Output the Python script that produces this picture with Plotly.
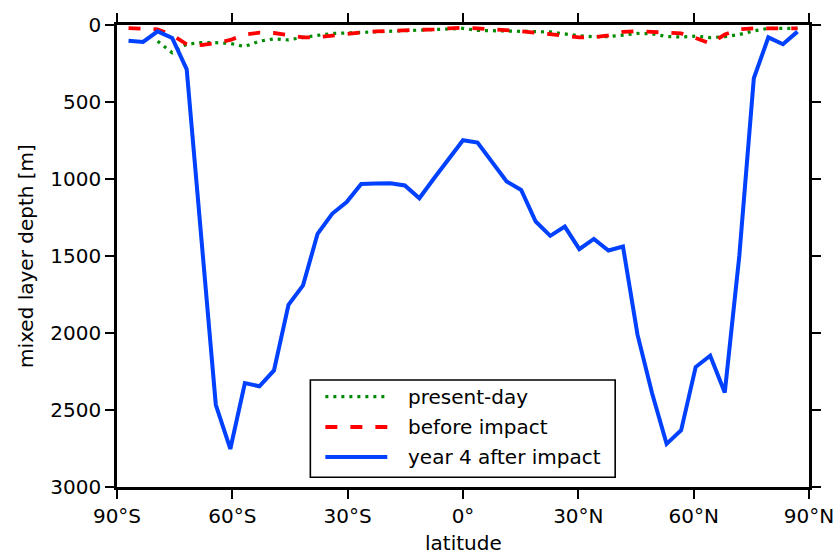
import plotly.graph_objects as go

lat = [-87.0, -83.22, -79.43, -75.65, -71.87, -68.09, -64.3, -60.52, -56.74, -52.96,
       -49.17, -45.39, -41.61, -37.83, -34.04, -30.26, -26.48, -22.7, -18.91, -15.13,
       -11.35, -7.57, -3.78, 0.0, 3.78, 7.57, 11.35, 15.13, 18.91, 22.7, 26.48, 30.26,
       34.04, 37.83, 41.61, 45.39, 49.17, 52.96, 56.74, 60.52, 64.3, 68.09, 71.87,
       75.65, 79.43, 83.22, 87.0]

present_day = [None, None, 105, 180, 125, 115, 115, 120, 140, 105, 90, 97, 80, 65, 55,
               52, 48, 45, 42, 38, 33, 28, 24, 22, 35, 37, 38, 38, 40, 45, 58, 70, 76,
               75, 66, 55, 57, 75, 78, 72, 82, 76, 62, 38, 22, 22, 22]

before_impact = [20, 22, 28, 65, 125, 130, 118, 97, 62, 50, 52, 65, 80, 80, 70, 55, 48,
                 42, 40, 36, 33, 28, 22, 17, 22, 26, 33, 40, 50, 58, 66, 80, 80, 68, 45,
                 40, 45, 48, 55, 85, 120, 62, 28, 22, 22, 22, 22]

year4_after = [102, 110, 41, 84, 288, 1390, 2466, 2753, 2325, 2346, 2243, 1817, 1691,
               1356, 1226, 1150, 1032, 1030, 1027, 1042, 1125, 997, 870, 748, 763, 890,
               1016, 1071, 1276, 1369, 1309, 1455, 1389, 1464, 1438, 2011, 2390, 2720,
               2632, 2221, 2148, 2386, 1500, 346, 80, 125, 43]

x_ticks = [-90, -60, -30, 0, 30, 60, 90]
x_tick_labels = ["90°S", "60°S", "30°S", "0°", "30°N", "60°N", "90°N"]
y_ticks = [0, 500, 1000, 1500, 2000, 2500, 3000]

series_names = ["present-day", "before impact", "year 4 after impact"]
colors = ["#008c00", "#ff0000", "#0040ff"]
dashes = ["3px,5px", "12px,13px", "solid"]
widths = [3.2, 3.8, 4]

FONT = "DejaVu Sans"

fig = go.Figure()
for name, ys, c, d, w in zip(series_names, [present_day, before_impact, year4_after],
                             colors, dashes, widths):
    fig.add_trace(go.Scatter(x=lat, y=ys, mode="lines", name=name,
                             line=dict(color=c, dash=d, width=w),
                             connectgaps=False, showlegend=False))

# custom legend (matplotlib-like)
shapes = [dict(type="rect", xref="paper", yref="paper", x0=0.2794, x1=0.7199,
               y0=0.021, y1=0.2316, line=dict(color="black", width=1.6),
               fillcolor="white", layer="above")]
annotations = []
rows = [0.1955, 0.1299, 0.0649]
for name, c, d, w, yy in zip(series_names, colors, dashes, widths, rows):
    shapes.append(dict(type="line", xref="paper", yref="paper", x0=0.3011, x1=0.3906,
                       y0=yy, y1=yy, line=dict(color=c, dash=d, width=w), layer="above"))
    annotations.append(dict(xref="paper", yref="paper", x=0.418, y=yy, text=name,
                            showarrow=False, xanchor="left", yanchor="middle",
                            font=dict(family=FONT, size=20, color="black")))

# x-axis title placed as a text annotation below the tick labels
annotations.append(dict(xref="paper", yref="paper", x=0.5, y=-0.121, text="latitude",
                        showarrow=False, xanchor="center", yanchor="middle",
                        font=dict(family=FONT, size=20, color="black")))

axis_common = dict(showline=True, linecolor="black", linewidth=2.6, mirror="ticks",
                   ticks="outside", ticklen=9, tickwidth=2.2, tickcolor="black",
                   showgrid=False, zeroline=False,
                   tickfont=dict(family=FONT, size=20, color="black"))

fig.update_layout(
    width=840, height=555,
    margin=dict(l=116.5, r=31, t=25, b=68, autoexpand=False),
    paper_bgcolor="white", plot_bgcolor="white",
    shapes=shapes, annotations=annotations,
    xaxis=dict(range=[-90, 90], tickvals=x_ticks, ticktext=x_tick_labels,
               **axis_common),
    yaxis=dict(range=[3000, 0], tickvals=y_ticks, ticktext=[str(v) for v in y_ticks],
               title=dict(text="mixed layer depth [m]", standoff=12,
                          font=dict(family=FONT, size=20, color="black")),
               **axis_common),
)

fig.write_html("out.html")
